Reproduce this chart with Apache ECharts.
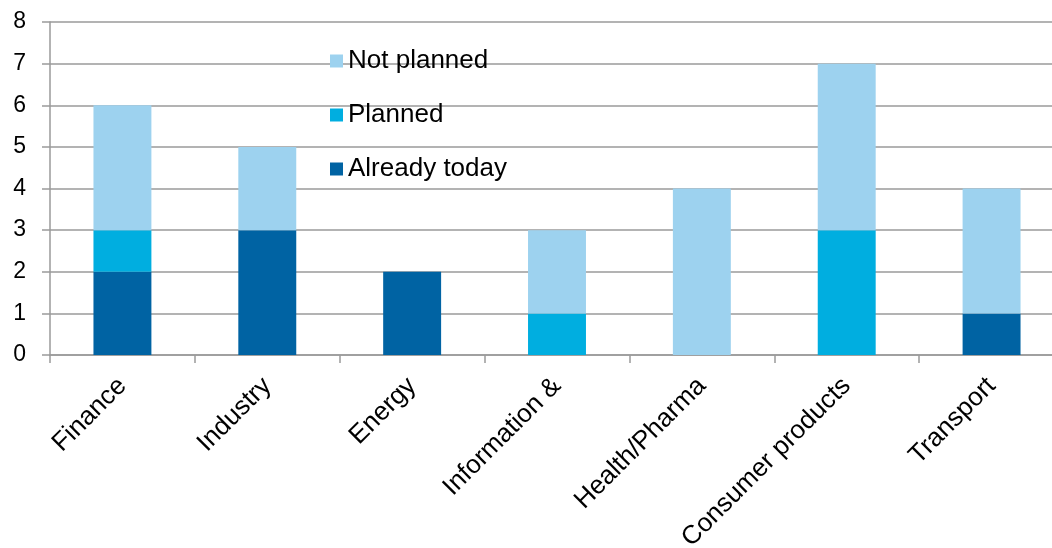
<!DOCTYPE html>
<html>
<head>
<meta charset="utf-8">
<script src="https://cdn.jsdelivr.net/npm/echarts@6/dist/echarts.min.js"></script>
<style>
  html, body { margin: 0; padding: 0; background: #fff; }
  #chart { width: 1052px; height: 548px; }
</style>
</head>
<body>
<div id="chart"></div>
<script>
// Sectors and counts per adoption status (stacked)
const categories = ['Finance', 'Industry', 'Energy', 'Information &', 'Health/Pharma', 'Consumer products', 'Transport'];
const alreadyToday = [2, 3, 2, 0, 0, 0, 1];
const planned      = [1, 0, 0, 1, 0, 3, 0];
const notPlanned   = [3, 2, 0, 2, 4, 4, 3];
const yTicks = [0, 1, 2, 3, 4, 5, 6, 7, 8];

const FONT = 'Liberation Sans, Arial, sans-serif';
const GRID_GRAY = '#9a9a9a';

const chart = echarts.init(document.getElementById('chart'), null, { renderer: 'canvas' });

function bar(name, data, color) {
  return {
    name, type: 'bar', stack: 'total', data,
    barWidth: '40%',
    itemStyle: { color },
    emphasis: { disabled: true },
    animation: false
  };
}

chart.setOption({
  animation: false,
  backgroundColor: '#fff',
  textStyle: { fontFamily: FONT },
  // the plot runs a little past the right edge of the canvas
  grid: { left: 50, top: 22, width: 1014, height: 333, containLabel: false, outerBoundsMode: 'none' },
  legend: {
    orient: 'vertical',
    left: 325,
    top: 43,
    itemWidth: 13,
    itemHeight: 13,
    itemGap: 28,
    icon: 'rect',
    data: ['Not planned', 'Planned', 'Already today'],
    textStyle: { fontFamily: FONT, fontSize: 26, color: '#000', padding: [0, 0, 0, 0] }
  },
  xAxis: {
    type: 'category',
    data: categories,
    axisLine: { lineStyle: { color: GRID_GRAY, width: 1.5 } },
    axisTick: { show: true, length: 8, lineStyle: { color: GRID_GRAY, width: 1.5 } },
    axisLabel: {
      rotate: 45, interval: 0, margin: 27,
      fontFamily: FONT, fontSize: 26, color: '#000'
    }
  },
  yAxis: {
    type: 'value',
    min: yTicks[0], max: yTicks[yTicks.length - 1], interval: 1,
    axisLine: { show: true, lineStyle: { color: GRID_GRAY, width: 1.5 } },
    axisTick: { show: true, length: 8, lineStyle: { color: GRID_GRAY, width: 1.5 } },
    splitLine: { lineStyle: { color: GRID_GRAY, width: 1.5 } },
    axisLabel: { margin: 24, fontFamily: FONT, fontSize: 23, color: '#000' }
  },
  series: [
    bar('Already today', alreadyToday, '#0063a3'),
    bar('Planned', planned, '#00aee0'),
    bar('Not planned', notPlanned, '#9dd2ef')
  ]
});
</script>
</body>
</html>
